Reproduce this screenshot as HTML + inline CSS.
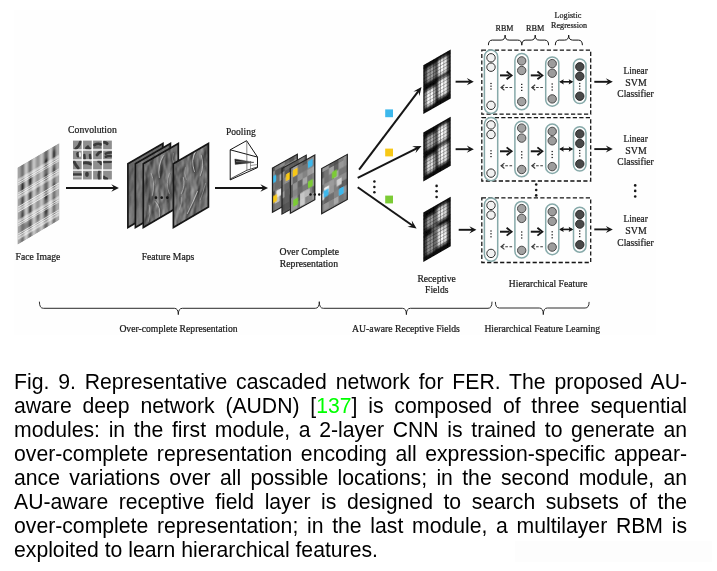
<!DOCTYPE html>
<html><head><meta charset="utf-8">
<style>
html,body{margin:0;padding:0;background:#fff;}
body{width:717px;height:571px;position:relative;overflow:hidden;font-family:"Liberation Sans",sans-serif;}
#fig{position:absolute;left:14px;top:10px;width:642px;height:325px;background:#fefefe;}
#cap{will-change:transform;position:absolute;left:14px;top:369.8px;width:673px;font-size:21.2px;line-height:24px;color:#000;}
#cap div{text-align:justify;text-align-last:justify;white-space:nowrap;height:24px;transform:scaleY(1.02);transform-origin:0 19.4px;}
#cap div.last{text-align:left;text-align-last:left;}
#cap span.ref{color:#00ff00;}
#wm{position:absolute;left:515px;top:541px;width:197px;height:21px;background:#fdfdfd;}
</style></head><body>
<div id="wm"></div>
<div id="fig">
<svg id="svg" width="642" height="324" viewBox="14 10 642 324" style="position:absolute;left:0;top:0;font-family:'Liberation Serif',serif;">
<defs>
<filter id="b3" x="-10%" y="-10%" width="120%" height="120%"><feGaussianBlur stdDeviation="0.35"/></filter>
<filter id="b5" x="-10%" y="-10%" width="120%" height="120%"><feGaussianBlur stdDeviation="0.55"/></filter>
<filter id="b8" x="-20%" y="-20%" width="140%" height="140%"><feGaussianBlur stdDeviation="0.8"/></filter>
<filter id="bu" filterUnits="userSpaceOnUse" x="-5" y="-5" width="20" height="20"><feGaussianBlur stdDeviation="0.85"/></filter>
<filter id="bt" filterUnits="userSpaceOnUse" x="0" y="0" width="720" height="360"><feGaussianBlur stdDeviation="0.28"/></filter>
<filter id="bg" filterUnits="userSpaceOnUse" x="0" y="0" width="720" height="360"><feGaussianBlur stdDeviation="0.3"/></filter>
<filter id="b15" x="-30%" y="-30%" width="160%" height="160%"><feGaussianBlur stdDeviation="1.6"/></filter>
<filter id="emb" x="0" y="0" width="100%" height="100%" color-interpolation-filters="sRGB">
<feTurbulence type="fractalNoise" baseFrequency="0.10 0.045" numOctaves="3" seed="7" result="n"/>
<feDiffuseLighting in="n" surfaceScale="1.25" diffuseConstant="1" lighting-color="#ffffff" result="l"><feDistantLight azimuth="205" elevation="30"/></feDiffuseLighting>
<feColorMatrix in="l" type="matrix" values="0.85 0 0 0 0  0 0.85 0 0 0  0 0 0.85 0 0  0 0 0 1 0" result="lc"/><feGaussianBlur in="lc" stdDeviation="0.45" result="lb"/>
<feComposite in="lb" in2="SourceGraphic" operator="in"/>
</filter>
<filter id="emb2" x="0" y="0" width="100%" height="100%" color-interpolation-filters="sRGB">
<feTurbulence type="fractalNoise" baseFrequency="0.10 0.045" numOctaves="3" seed="23" result="n"/>
<feDiffuseLighting in="n" surfaceScale="1.25" diffuseConstant="1" lighting-color="#ffffff" result="l"><feDistantLight azimuth="205" elevation="30"/></feDiffuseLighting>
<feColorMatrix in="l" type="matrix" values="0.85 0 0 0 0  0 0.85 0 0 0  0 0 0.85 0 0  0 0 0 1 0" result="lc"/><feGaussianBlur in="lc" stdDeviation="0.45" result="lb"/>
<feComposite in="lb" in2="SourceGraphic" operator="in"/>
</filter>
<radialGradient id="blob"><stop offset="0" stop-color="#fff" stop-opacity="1"/><stop offset="0.45" stop-color="#fff" stop-opacity="0.75"/><stop offset="1" stop-color="#fff" stop-opacity="0"/></radialGradient>
<radialGradient id="dblob"><stop offset="0" stop-color="#000" stop-opacity="0.7"/><stop offset="1" stop-color="#000" stop-opacity="0"/></radialGradient>
</defs>
<g filter="url(#bg)">
<g transform="matrix(1,-0.59,0,1,17.6,167.8)">
<clipPath id="cf"><rect x="0" y="0" width="41.7" height="76.6"/></clipPath>
<g clip-path="url(#cf)">
<rect x="0" y="0" width="41.7" height="76.6" fill="#8e8e8e"/>
<g filter="url(#b8)">
<rect x="-0.4" y="-2" width="3.2" height="80.6" fill="#a8a8a8"/>
<rect x="3.3" y="-2" width="3.8" height="80.6" fill="#707070"/>
<rect x="7.0" y="-2" width="3.2" height="80.6" fill="#cecece"/>
<rect x="10.8" y="-2" width="4.0" height="80.6" fill="#727272"/>
<rect x="14.7" y="-2" width="3.4" height="80.6" fill="#c8c8c8"/>
<rect x="18.8" y="-2" width="3.6" height="80.6" fill="#969696"/>
<rect x="22.5" y="-2" width="3.0" height="80.6" fill="#cacaca"/>
<rect x="26.5" y="-2" width="4.2" height="80.6" fill="#686868"/>
<rect x="31.1" y="-2" width="3.4" height="80.6" fill="#d0d0d0"/>
<rect x="34.7" y="-2" width="3.4" height="80.6" fill="#6e6e6e"/>
<rect x="38.2" y="-2" width="3.6" height="80.6" fill="#b0b0b0"/>
<ellipse cx="5.2" cy="22" rx="2.0" ry="4.5" fill="#0a0a0a" opacity="0.7"/>
<ellipse cx="12.8" cy="20" rx="2.0" ry="4.5" fill="#0a0a0a" opacity="0.75"/>
<ellipse cx="28.6" cy="12" rx="2.1" ry="4.5" fill="#0a0a0a" opacity="0.8"/>
<ellipse cx="36.4" cy="8" rx="1.8" ry="5" fill="#0a0a0a" opacity="0.75"/>
<ellipse cx="5.2" cy="36" rx="1.8" ry="4" fill="#0a0a0a" opacity="0.45"/>
<ellipse cx="12.8" cy="35" rx="1.8" ry="4" fill="#0a0a0a" opacity="0.5"/>
<ellipse cx="28.6" cy="27" rx="2" ry="4" fill="#0a0a0a" opacity="0.55"/>
<ellipse cx="36.4" cy="24" rx="1.8" ry="4" fill="#0a0a0a" opacity="0.5"/>
<ellipse cx="5.2" cy="50" rx="1.8" ry="4" fill="#0a0a0a" opacity="0.45"/>
<ellipse cx="12.8" cy="49" rx="1.8" ry="4" fill="#0a0a0a" opacity="0.5"/>
<ellipse cx="28.6" cy="44" rx="2" ry="5" fill="#0a0a0a" opacity="0.6"/>
<ellipse cx="36.4" cy="40" rx="1.8" ry="4" fill="#0a0a0a" opacity="0.5"/>
<ellipse cx="8.6" cy="63" rx="1.8" ry="4" fill="#0a0a0a" opacity="0.35"/>
<ellipse cx="28.6" cy="60" rx="2" ry="4" fill="#0a0a0a" opacity="0.45"/>
<ellipse cx="20.6" cy="32" rx="1.6" ry="5" fill="#0a0a0a" opacity="0.3"/>
<ellipse cx="20.6" cy="60" rx="1.6" ry="5" fill="#0a0a0a" opacity="0.3"/>
<ellipse cx="36.4" cy="55" rx="1.8" ry="4" fill="#0a0a0a" opacity="0.4"/>
<ellipse cx="12.8" cy="64" rx="1.8" ry="4" fill="#0a0a0a" opacity="0.4"/>
</g>
<g filter="url(#b3)">
<rect x="0" y="11.69" width="41.7" height="0.8" fill="#fff" opacity="1"/>
<rect x="0" y="13.39" width="41.7" height="0.8" fill="#fff" opacity="1"/>
<rect x="0" y="15.09" width="41.7" height="0.8" fill="#fff" opacity="1"/>
<rect x="0" y="16.79" width="41.7" height="0.8" fill="#fff" opacity="1"/>
<rect x="0" y="25.39" width="41.7" height="0.8" fill="#fff" opacity="1"/>
<rect x="0" y="27.09" width="41.7" height="0.8" fill="#fff" opacity="1"/>
<rect x="0" y="28.79" width="41.7" height="0.8" fill="#fff" opacity="1"/>
<rect x="0" y="30.49" width="41.7" height="0.8" fill="#fff" opacity="1"/>
<rect x="0" y="39.09" width="41.7" height="0.8" fill="#fff" opacity="1"/>
<rect x="0" y="40.79" width="41.7" height="0.8" fill="#fff" opacity="1"/>
<rect x="0" y="42.49" width="41.7" height="0.8" fill="#fff" opacity="1"/>
<rect x="0" y="44.19" width="41.7" height="0.8" fill="#fff" opacity="1"/>
<rect x="0" y="52.69" width="41.7" height="0.8" fill="#fff" opacity="1"/>
<rect x="0" y="54.39" width="41.7" height="0.8" fill="#fff" opacity="1"/>
<rect x="0" y="56.09" width="41.7" height="0.8" fill="#fff" opacity="1"/>
<rect x="0" y="57.79" width="41.7" height="0.8" fill="#fff" opacity="1"/>
<rect x="0" y="66.29" width="41.7" height="0.8" fill="#fff" opacity="1"/>
<rect x="0" y="67.99" width="41.7" height="0.8" fill="#fff" opacity="1"/>
<rect x="0" y="69.69" width="41.7" height="0.8" fill="#fff" opacity="1"/>
<rect x="0" y="71.39" width="41.7" height="0.8" fill="#fff" opacity="1"/>
</g>
</g></g>
<g filter="url(#b3)">
<rect x="73.00" y="140.60" width="8.7" height="8.7" fill="#8e8e8e"/>
<rect x="83.05" y="140.60" width="8.7" height="8.7" fill="#8e8e8e"/>
<rect x="93.10" y="140.60" width="8.7" height="8.7" fill="#8e8e8e"/>
<rect x="103.15" y="140.60" width="8.7" height="8.7" fill="#8e8e8e"/>
<rect x="73.00" y="150.65" width="8.7" height="8.7" fill="#8e8e8e"/>
<rect x="83.05" y="150.65" width="8.7" height="8.7" fill="#8e8e8e"/>
<rect x="93.10" y="150.65" width="8.7" height="8.7" fill="#8e8e8e"/>
<rect x="103.15" y="150.65" width="8.7" height="8.7" fill="#8e8e8e"/>
<rect x="73.00" y="160.70" width="8.7" height="8.7" fill="#8e8e8e"/>
<rect x="83.05" y="160.70" width="8.7" height="8.7" fill="#8e8e8e"/>
<rect x="93.10" y="160.70" width="8.7" height="8.7" fill="#8e8e8e"/>
<rect x="103.15" y="160.70" width="8.7" height="8.7" fill="#8e8e8e"/>
<rect x="73.00" y="170.75" width="8.7" height="8.7" fill="#8e8e8e"/>
<rect x="83.05" y="170.75" width="8.7" height="8.7" fill="#8e8e8e"/>
<rect x="93.10" y="170.75" width="8.7" height="8.7" fill="#8e8e8e"/>
<rect x="103.15" y="170.75" width="8.7" height="8.7" fill="#8e8e8e"/>
<svg x="73.00" y="140.60" width="8.7" height="8.7" viewBox="0 0 10 10" preserveAspectRatio="none"><path d="M3,9.5 Q7,7 8.5,1.5" stroke="#262626" stroke-width="3.1" fill="none" opacity="0.8" stroke-linecap="round" filter="url(#bu)"/></svg>
<svg x="83.05" y="140.60" width="8.7" height="8.7" viewBox="0 0 10 10" preserveAspectRatio="none"><path d="M4,8.5 L7.5,9.2 M5.5,7 L6.5,9" stroke="#262626" stroke-width="3.3" fill="none" opacity="0.8" stroke-linecap="round" filter="url(#bu)"/></svg>
<svg x="93.10" y="140.60" width="8.7" height="8.7" viewBox="0 0 10 10" preserveAspectRatio="none"><path d="M1.5,5 Q5,3 9,4.2" stroke="#262626" stroke-width="3.3" fill="none" opacity="0.8" stroke-linecap="round" filter="url(#bu)"/></svg>
<svg x="93.10" y="140.60" width="8.7" height="8.7" viewBox="0 0 10 10" preserveAspectRatio="none"><path d="M1.5,7.5 L8.5,7.5" stroke="#555" stroke-width="2.1" fill="none" opacity="0.6" stroke-linecap="round" filter="url(#bu)"/></svg>
<svg x="103.15" y="140.60" width="8.7" height="8.7" viewBox="0 0 10 10" preserveAspectRatio="none"><path d="M1,2 Q3,2 4.5,3.5" stroke="#262626" stroke-width="3.5" fill="none" opacity="0.8" stroke-linecap="round" filter="url(#bu)"/></svg>
<svg x="73.00" y="150.65" width="8.7" height="8.7" viewBox="0 0 10 10" preserveAspectRatio="none"><path d="M5.5,3.5 L6,6" stroke="#262626" stroke-width="3.9" fill="none" opacity="0.8" stroke-linecap="round" filter="url(#bu)"/></svg>
<svg x="73.00" y="150.65" width="8.7" height="8.7" viewBox="0 0 10 10" preserveAspectRatio="none"><path d="M7.8,3 L8,6" stroke="#fff" stroke-width="2.4" fill="none" opacity="0.85" stroke-linecap="round" filter="url(#bu)"/></svg>
<svg x="83.05" y="150.65" width="8.7" height="8.7" viewBox="0 0 10 10" preserveAspectRatio="none"><path d="M1.5,5 L1.8,9.5 M8,5 L8.6,9.5" stroke="#262626" stroke-width="2.9" fill="none" opacity="0.8" stroke-linecap="round" filter="url(#bu)"/></svg>
<svg x="93.10" y="150.65" width="8.7" height="8.7" viewBox="0 0 10 10" preserveAspectRatio="none"><path d="M4.5,5 Q6.5,1.5 9.5,0.8" stroke="#262626" stroke-width="3.3" fill="none" opacity="0.8" stroke-linecap="round" filter="url(#bu)"/></svg>
<svg x="103.15" y="150.65" width="8.7" height="8.7" viewBox="0 0 10 10" preserveAspectRatio="none"><path d="M3,3.5 Q6,2 9.5,2.2 M3,7 Q6,5.8 9.5,6.5" stroke="#262626" stroke-width="2.9" fill="none" opacity="0.8" stroke-linecap="round" filter="url(#bu)"/></svg>
<svg x="73.00" y="160.70" width="8.7" height="8.7" viewBox="0 0 10 10" preserveAspectRatio="none"><path d="M1.2,1 Q3,5 6,8.5" stroke="#262626" stroke-width="3.3" fill="none" opacity="0.8" stroke-linecap="round" filter="url(#bu)"/></svg>
<svg x="83.05" y="160.70" width="8.7" height="8.7" viewBox="0 0 10 10" preserveAspectRatio="none"><path d="M1,2.5 Q5,1.8 9,3.8" stroke="#262626" stroke-width="3.5" fill="none" opacity="0.8" stroke-linecap="round" filter="url(#bu)"/></svg>
<svg x="93.10" y="160.70" width="8.7" height="8.7" viewBox="0 0 10 10" preserveAspectRatio="none"><path d="M6.5,0.8 Q8.5,1.5 9.3,3.5" stroke="#262626" stroke-width="3.5" fill="none" opacity="0.8" stroke-linecap="round" filter="url(#bu)"/></svg>
<svg x="103.15" y="160.70" width="8.7" height="8.7" viewBox="0 0 10 10" preserveAspectRatio="none"><path d="M1,1.2 L9,1" stroke="#262626" stroke-width="3.3" fill="none" opacity="0.8" stroke-linecap="round" filter="url(#bu)"/></svg>
<svg x="73.00" y="170.75" width="8.7" height="8.7" viewBox="0 0 10 10" preserveAspectRatio="none"><path d="M0.5,4.2 L9.5,4.2" stroke="#262626" stroke-width="2.9" fill="none" opacity="0.8" stroke-linecap="round" filter="url(#bu)"/></svg>
<svg x="73.00" y="170.75" width="8.7" height="8.7" viewBox="0 0 10 10" preserveAspectRatio="none"><path d="M0.5,6.8 L9.5,6.8" stroke="#ddd" stroke-width="2.0" fill="none" opacity="0.6" stroke-linecap="round" filter="url(#bu)"/></svg>
<svg x="83.05" y="170.75" width="8.7" height="8.7" viewBox="0 0 10 10" preserveAspectRatio="none"><path d="M4.5,3.2 L4.5,5" stroke="#262626" stroke-width="4.1" fill="none" opacity="0.8" stroke-linecap="round" filter="url(#bu)"/></svg>
<svg x="93.10" y="170.75" width="8.7" height="8.7" viewBox="0 0 10 10" preserveAspectRatio="none"><path d="M7.2,0.5 Q6,5 7,9.5" stroke="#262626" stroke-width="3.1" fill="none" opacity="0.8" stroke-linecap="round" filter="url(#bu)"/></svg>
<svg x="103.15" y="170.75" width="8.7" height="8.7" viewBox="0 0 10 10" preserveAspectRatio="none"><path d="M0.8,7.5 Q2,9 4,9.4" stroke="#262626" stroke-width="3.7" fill="none" opacity="0.8" stroke-linecap="round" filter="url(#bu)"/></svg>
</g>
<path d="M66.0,188.0 L114.7,188.0" stroke="#141414" stroke-width="2.0" fill="none"/>
<path d="M118.9,188.0 L111.3,184.3 L114.2,188.0 L111.3,191.7 Z" fill="#141414"/>
<polygon points="127.9,163.7 162.9,143.5 162.9,207.0 127.9,227.5" fill="#6d6d6d"/>
<polygon points="127.9,163.7 162.9,143.5 162.9,207.0 127.9,227.5" fill="#808080" filter="url(#emb2)" opacity="0.45"/>
<polygon points="127.9,163.7 162.9,143.5 162.9,207.0 127.9,227.5" fill="none" stroke="#141414" stroke-width="1.7" stroke-linejoin="miter"/>
<polygon points="135.4,163.7 170.4,143.5 170.4,207.0 135.4,227.5" fill="#707070"/>
<polygon points="135.4,163.7 170.4,143.5 170.4,207.0 135.4,227.5" fill="#808080" filter="url(#emb)" opacity="0.45"/>
<polygon points="135.4,163.7 170.4,143.5 170.4,207.0 135.4,227.5" fill="none" stroke="#141414" stroke-width="1.7" stroke-linejoin="miter"/>
<polygon points="143.3,163.7 178.3,143.5 178.3,207.0 143.3,227.5" fill="#7f7f7f"/>
<polygon points="143.3,163.7 178.3,143.5 178.3,207.0 143.3,227.5" fill="#808080" filter="url(#emb)" opacity="1.0"/>
<clipPath id="fm143"><polygon points="143.3,163.7 178.3,143.5 178.3,207.0 143.3,227.5"/></clipPath>
<g clip-path="url(#fm143)"><g filter="url(#b5)" fill="none" stroke-linecap="round" transform="translate(143.3,143.5)">
<path d="M20,12 Q14,22 16,34" stroke="#d8d8d8" stroke-width="0.9" opacity="0.7"/>
<path d="M21.2,12.5 Q15.2,22.5 17.2,34.5" stroke="#333" stroke-width="0.9" opacity="0.5"/>
<path d="M8,30 Q12,40 9,52" stroke="#d0d0d0" stroke-width="0.8" opacity="0.6"/>
<path d="M9.2,30.5 Q13.2,40.5 10.2,52.5" stroke="#3a3a3a" stroke-width="0.8" opacity="0.45"/>
<path d="M12,58 Q18,64 16,74" stroke="#d8d8d8" stroke-width="0.9" opacity="0.65"/>
<path d="M13.2,58 Q19.2,64 17.2,74" stroke="#333" stroke-width="0.8" opacity="0.45"/>
<path d="M26,30 Q22,40 26,50" stroke="#cfcfcf" stroke-width="0.8" opacity="0.55"/>
<path d="M27,30 Q23,40 27,50" stroke="#3a3a3a" stroke-width="0.8" opacity="0.4"/>
<path d="M6,62 Q8,70 5,78" stroke="#d0d0d0" stroke-width="0.8" opacity="0.5"/>
<path d="M30,10 Q28,16 31,22" stroke="#ccc" stroke-width="0.8" opacity="0.5"/>
</g></g>
<polygon points="143.3,163.7 178.3,143.5 178.3,207.0 143.3,227.5" fill="none" stroke="#141414" stroke-width="1.7" stroke-linejoin="miter"/>
<polygon points="173.4,163.7 208.4,143.5 208.4,207.0 173.4,227.5" fill="#7f7f7f"/>
<polygon points="173.4,163.7 208.4,143.5 208.4,207.0 173.4,227.5" fill="#808080" filter="url(#emb2)" opacity="1.0"/>
<clipPath id="fm173"><polygon points="173.4,163.7 208.4,143.5 208.4,207.0 173.4,227.5"/></clipPath>
<g clip-path="url(#fm173)"><g filter="url(#b5)" fill="none" stroke-linecap="round" transform="translate(173.4,143.5)">
<path d="M22,8 Q17,16 21,28" stroke="#dcdcdc" stroke-width="1.0" opacity="0.75"/>
<path d="M23.2,8.5 Q18.2,16.5 22.2,28.5" stroke="#2f2f2f" stroke-width="0.9" opacity="0.5"/>
<path d="M28,12 Q31,22 27,32" stroke="#d8d8d8" stroke-width="0.9" opacity="0.65"/>
<path d="M29.2,12 Q32.2,22 28.2,32" stroke="#333" stroke-width="0.8" opacity="0.45"/>
<path d="M8,50 Q12,42 10,34" stroke="#d4d4d4" stroke-width="0.9" opacity="0.6"/>
<path d="M9.2,50.5 Q13.2,42.5 11.2,34.5" stroke="#333" stroke-width="0.8" opacity="0.45"/>
<path d="M14,70 Q20,58 24,48" stroke="#dadada" stroke-width="1.0" opacity="0.7"/>
<path d="M15.2,70.5 Q21.2,58.5 25.2,48.5" stroke="#2f2f2f" stroke-width="0.9" opacity="0.5"/>
<path d="M27,56 Q30,48 32,40" stroke="#d0d0d0" stroke-width="0.8" opacity="0.55"/>
<path d="M6,66 Q9,60 8,54" stroke="#ccc" stroke-width="0.8" opacity="0.5"/>
<path d="M12,24 Q10,30 13,36" stroke="#ccc" stroke-width="0.8" opacity="0.45"/>
</g></g>
<polygon points="173.4,163.7 208.4,143.5 208.4,207.0 173.4,227.5" fill="none" stroke="#141414" stroke-width="1.7" stroke-linejoin="miter"/>
<circle cx="155.9" cy="197.7" r="1.35" fill="#141414"/>
<circle cx="161.7" cy="197.7" r="1.35" fill="#141414"/>
<circle cx="167.3" cy="197.7" r="1.35" fill="#141414"/>
<g fill="none" stroke="#141414" stroke-width="1" stroke-linejoin="round">
<path d="M230.2,149.8 L246.6,140.7 L257.5,157.1 L257.5,167.6 L230.2,179.9 Z"/>
<path d="M230.2,149.8 L257.5,157.1"/>
<path d="M230.2,179.0 L247.0,170.2 L257.5,167.0" stroke-width="0.8"/>
<path d="M246.8,141 L246.9,170.3" stroke="#555" stroke-width="0.7"/>
<path d="M250.5,161 L250.5,169 M250.5,165.5 L257.5,164.5" stroke="#555" stroke-width="0.6"/>
</g>
<path d="M234.8,159.0 L254.0,162.4 L235.2,164.4 Z" fill="#262626" stroke="#262626" stroke-width="0.4"/>
<path d="M236,161.6 L252,162.3" stroke="#aaa" stroke-width="0.5"/>
<path d="M215.0,188.0 L263.8,188.0" stroke="#141414" stroke-width="2.0" fill="none"/>
<path d="M268.0,188.0 L260.4,184.3 L263.3,188.0 L260.4,191.7 Z" fill="#141414"/>
<g transform="matrix(1,-0.552,0,1,272.5,168.0)">
<clipPath id="oc11"><rect x="0" y="0" width="24.8" height="44.2"/></clipPath>
<g clip-path="url(#oc11)">
<rect x="0" y="0" width="24.8" height="44.2" fill="rgb(116,116,116)"/>
<g filter="url(#b3)">
<rect x="-2.40" y="-2.60" width="4.949999999999999" height="6.699999999999999" fill="rgb(87,87,87)"/>
<rect x="2.45" y="-2.60" width="4.949999999999999" height="6.699999999999999" fill="rgb(124,124,124)"/>
<rect x="7.30" y="-2.60" width="4.949999999999999" height="6.699999999999999" fill="rgb(138,138,138)"/>
<rect x="12.15" y="-2.60" width="4.949999999999999" height="6.699999999999999" fill="rgb(104,104,104)"/>
<rect x="17.00" y="-2.60" width="4.949999999999999" height="6.699999999999999" fill="rgb(85,85,85)"/>
<rect x="21.85" y="-2.60" width="4.949999999999999" height="6.699999999999999" fill="rgb(114,114,114)"/>
<rect x="26.70" y="-2.60" width="4.949999999999999" height="6.699999999999999" fill="rgb(126,126,126)"/>
<rect x="-2.40" y="4.00" width="4.949999999999999" height="6.699999999999999" fill="rgb(141,141,141)"/>
<rect x="2.45" y="4.00" width="4.949999999999999" height="6.699999999999999" fill="rgb(88,88,88)"/>
<rect x="7.30" y="4.00" width="4.949999999999999" height="6.699999999999999" fill="rgb(86,86,86)"/>
<rect x="12.15" y="4.00" width="4.949999999999999" height="6.699999999999999" fill="rgb(132,132,132)"/>
<rect x="17.00" y="4.00" width="4.949999999999999" height="6.699999999999999" fill="rgb(126,126,126)"/>
<rect x="21.85" y="4.00" width="4.949999999999999" height="6.699999999999999" fill="rgb(151,151,151)"/>
<rect x="26.70" y="4.00" width="4.949999999999999" height="6.699999999999999" fill="rgb(138,138,138)"/>
<rect x="-2.40" y="10.60" width="4.949999999999999" height="6.699999999999999" fill="rgb(113,113,113)"/>
<rect x="2.45" y="10.60" width="4.949999999999999" height="6.699999999999999" fill="rgb(109,109,109)"/>
<rect x="7.30" y="10.60" width="4.949999999999999" height="6.699999999999999" fill="rgb(175,175,175)"/>
<rect x="12.15" y="10.60" width="4.949999999999999" height="6.699999999999999" fill="rgb(109,109,109)"/>
<rect x="17.00" y="10.60" width="4.949999999999999" height="6.699999999999999" fill="rgb(97,97,97)"/>
<rect x="21.85" y="10.60" width="4.949999999999999" height="6.699999999999999" fill="rgb(89,89,89)"/>
<rect x="26.70" y="10.60" width="4.949999999999999" height="6.699999999999999" fill="rgb(118,118,118)"/>
<rect x="-2.40" y="17.20" width="4.949999999999999" height="6.699999999999999" fill="rgb(119,119,119)"/>
<rect x="2.45" y="17.20" width="4.949999999999999" height="6.699999999999999" fill="rgb(108,108,108)"/>
<rect x="7.30" y="17.20" width="4.949999999999999" height="6.699999999999999" fill="rgb(114,114,114)"/>
<rect x="12.15" y="17.20" width="4.949999999999999" height="6.699999999999999" fill="rgb(122,122,122)"/>
<rect x="17.00" y="17.20" width="4.949999999999999" height="6.699999999999999" fill="rgb(131,131,131)"/>
<rect x="21.85" y="17.20" width="4.949999999999999" height="6.699999999999999" fill="rgb(141,141,141)"/>
<rect x="26.70" y="17.20" width="4.949999999999999" height="6.699999999999999" fill="rgb(120,120,120)"/>
<rect x="-2.40" y="23.80" width="4.949999999999999" height="6.699999999999999" fill="rgb(74,74,74)"/>
<rect x="2.45" y="23.80" width="4.949999999999999" height="6.699999999999999" fill="rgb(132,132,132)"/>
<rect x="7.30" y="23.80" width="4.949999999999999" height="6.699999999999999" fill="rgb(83,83,83)"/>
<rect x="12.15" y="23.80" width="4.949999999999999" height="6.699999999999999" fill="rgb(112,112,112)"/>
<rect x="17.00" y="23.80" width="4.949999999999999" height="6.699999999999999" fill="rgb(82,82,82)"/>
<rect x="21.85" y="23.80" width="4.949999999999999" height="6.699999999999999" fill="rgb(116,116,116)"/>
<rect x="26.70" y="23.80" width="4.949999999999999" height="6.699999999999999" fill="rgb(98,98,98)"/>
<rect x="-2.40" y="30.40" width="4.949999999999999" height="6.699999999999999" fill="rgb(120,120,120)"/>
<rect x="2.45" y="30.40" width="4.949999999999999" height="6.699999999999999" fill="rgb(191,191,191)"/>
<rect x="7.30" y="30.40" width="4.949999999999999" height="6.699999999999999" fill="rgb(114,114,114)"/>
<rect x="12.15" y="30.40" width="4.949999999999999" height="6.699999999999999" fill="rgb(135,135,135)"/>
<rect x="17.00" y="30.40" width="4.949999999999999" height="6.699999999999999" fill="rgb(85,85,85)"/>
<rect x="21.85" y="30.40" width="4.949999999999999" height="6.699999999999999" fill="rgb(109,109,109)"/>
<rect x="26.70" y="30.40" width="4.949999999999999" height="6.699999999999999" fill="rgb(131,131,131)"/>
<rect x="-2.40" y="37.00" width="4.949999999999999" height="6.699999999999999" fill="rgb(113,113,113)"/>
<rect x="2.45" y="37.00" width="4.949999999999999" height="6.699999999999999" fill="rgb(124,124,124)"/>
<rect x="7.30" y="37.00" width="4.949999999999999" height="6.699999999999999" fill="rgb(118,118,118)"/>
<rect x="12.15" y="37.00" width="4.949999999999999" height="6.699999999999999" fill="rgb(92,92,92)"/>
<rect x="17.00" y="37.00" width="4.949999999999999" height="6.699999999999999" fill="rgb(128,128,128)"/>
<rect x="21.85" y="37.00" width="4.949999999999999" height="6.699999999999999" fill="rgb(97,97,97)"/>
<rect x="26.70" y="37.00" width="4.949999999999999" height="6.699999999999999" fill="rgb(159,159,159)"/>
<rect x="-2.40" y="43.60" width="4.949999999999999" height="6.699999999999999" fill="rgb(104,104,104)"/>
<rect x="2.45" y="43.60" width="4.949999999999999" height="6.699999999999999" fill="rgb(131,131,131)"/>
<rect x="7.30" y="43.60" width="4.949999999999999" height="6.699999999999999" fill="rgb(116,116,116)"/>
<rect x="12.15" y="43.60" width="4.949999999999999" height="6.699999999999999" fill="rgb(137,137,137)"/>
<rect x="17.00" y="43.60" width="4.949999999999999" height="6.699999999999999" fill="rgb(102,102,102)"/>
<rect x="21.85" y="43.60" width="4.949999999999999" height="6.699999999999999" fill="rgb(138,138,138)"/>
<rect x="26.70" y="43.60" width="4.949999999999999" height="6.699999999999999" fill="rgb(113,113,113)"/>
<rect x="3.90" y="25.12" width="4.85" height="6.6" fill="#e8e8e8"/>
<rect x="-1.20" y="8.60" width="4.9" height="7.0" rx="0.8" fill="#3db8ec"/>
<rect x="-0.30" y="28.61" width="4.9" height="7.0" rx="0.8" fill="#f7c815"/>
</g>
</g>
<rect x="0" y="0" width="24.8" height="44.2" fill="none" stroke="#222" stroke-width="1.25"/>
</g>
<g transform="matrix(1,-0.552,0,1,282.0,168.5)">
<clipPath id="oc12"><rect x="0" y="0" width="24.2" height="45.6"/></clipPath>
<g clip-path="url(#oc12)">
<rect x="0" y="0" width="24.2" height="45.6" fill="rgb(100,100,100)"/>
<g filter="url(#b3)">
<rect x="-2.40" y="-2.60" width="4.949999999999999" height="6.699999999999999" fill="rgb(66,66,66)"/>
<rect x="2.45" y="-2.60" width="4.949999999999999" height="6.699999999999999" fill="rgb(105,105,105)"/>
<rect x="7.30" y="-2.60" width="4.949999999999999" height="6.699999999999999" fill="rgb(93,93,93)"/>
<rect x="12.15" y="-2.60" width="4.949999999999999" height="6.699999999999999" fill="rgb(88,88,88)"/>
<rect x="17.00" y="-2.60" width="4.949999999999999" height="6.699999999999999" fill="rgb(122,122,122)"/>
<rect x="21.85" y="-2.60" width="4.949999999999999" height="6.699999999999999" fill="rgb(101,101,101)"/>
<rect x="26.70" y="-2.60" width="4.949999999999999" height="6.699999999999999" fill="rgb(93,93,93)"/>
<rect x="-2.40" y="4.00" width="4.949999999999999" height="6.699999999999999" fill="rgb(141,141,141)"/>
<rect x="2.45" y="4.00" width="4.949999999999999" height="6.699999999999999" fill="rgb(88,88,88)"/>
<rect x="7.30" y="4.00" width="4.949999999999999" height="6.699999999999999" fill="rgb(70,70,70)"/>
<rect x="12.15" y="4.00" width="4.949999999999999" height="6.699999999999999" fill="rgb(68,68,68)"/>
<rect x="17.00" y="4.00" width="4.949999999999999" height="6.699999999999999" fill="rgb(87,87,87)"/>
<rect x="21.85" y="4.00" width="4.949999999999999" height="6.699999999999999" fill="rgb(115,115,115)"/>
<rect x="26.70" y="4.00" width="4.949999999999999" height="6.699999999999999" fill="rgb(119,119,119)"/>
<rect x="-2.40" y="10.60" width="4.949999999999999" height="6.699999999999999" fill="rgb(126,126,126)"/>
<rect x="2.45" y="10.60" width="4.949999999999999" height="6.699999999999999" fill="rgb(142,142,142)"/>
<rect x="7.30" y="10.60" width="4.949999999999999" height="6.699999999999999" fill="rgb(139,139,139)"/>
<rect x="12.15" y="10.60" width="4.949999999999999" height="6.699999999999999" fill="rgb(115,115,115)"/>
<rect x="17.00" y="10.60" width="4.949999999999999" height="6.699999999999999" fill="rgb(131,131,131)"/>
<rect x="21.85" y="10.60" width="4.949999999999999" height="6.699999999999999" fill="rgb(115,115,115)"/>
<rect x="26.70" y="10.60" width="4.949999999999999" height="6.699999999999999" fill="rgb(87,87,87)"/>
<rect x="-2.40" y="17.20" width="4.949999999999999" height="6.699999999999999" fill="rgb(120,120,120)"/>
<rect x="2.45" y="17.20" width="4.949999999999999" height="6.699999999999999" fill="rgb(102,102,102)"/>
<rect x="7.30" y="17.20" width="4.949999999999999" height="6.699999999999999" fill="rgb(96,96,96)"/>
<rect x="12.15" y="17.20" width="4.949999999999999" height="6.699999999999999" fill="rgb(147,147,147)"/>
<rect x="17.00" y="17.20" width="4.949999999999999" height="6.699999999999999" fill="rgb(119,119,119)"/>
<rect x="21.85" y="17.20" width="4.949999999999999" height="6.699999999999999" fill="rgb(89,89,89)"/>
<rect x="26.70" y="17.20" width="4.949999999999999" height="6.699999999999999" fill="rgb(99,99,99)"/>
<rect x="-2.40" y="23.80" width="4.949999999999999" height="6.699999999999999" fill="rgb(155,155,155)"/>
<rect x="2.45" y="23.80" width="4.949999999999999" height="6.699999999999999" fill="rgb(95,95,95)"/>
<rect x="7.30" y="23.80" width="4.949999999999999" height="6.699999999999999" fill="rgb(118,118,118)"/>
<rect x="12.15" y="23.80" width="4.949999999999999" height="6.699999999999999" fill="rgb(115,115,115)"/>
<rect x="17.00" y="23.80" width="4.949999999999999" height="6.699999999999999" fill="rgb(113,113,113)"/>
<rect x="21.85" y="23.80" width="4.949999999999999" height="6.699999999999999" fill="rgb(114,114,114)"/>
<rect x="26.70" y="23.80" width="4.949999999999999" height="6.699999999999999" fill="rgb(90,90,90)"/>
<rect x="-2.40" y="30.40" width="4.949999999999999" height="6.699999999999999" fill="rgb(90,90,90)"/>
<rect x="2.45" y="30.40" width="4.949999999999999" height="6.699999999999999" fill="rgb(97,97,97)"/>
<rect x="7.30" y="30.40" width="4.949999999999999" height="6.699999999999999" fill="rgb(92,92,92)"/>
<rect x="12.15" y="30.40" width="4.949999999999999" height="6.699999999999999" fill="rgb(120,120,120)"/>
<rect x="17.00" y="30.40" width="4.949999999999999" height="6.699999999999999" fill="rgb(137,137,137)"/>
<rect x="21.85" y="30.40" width="4.949999999999999" height="6.699999999999999" fill="rgb(80,80,80)"/>
<rect x="26.70" y="30.40" width="4.949999999999999" height="6.699999999999999" fill="rgb(114,114,114)"/>
<rect x="-2.40" y="37.00" width="4.949999999999999" height="6.699999999999999" fill="rgb(78,78,78)"/>
<rect x="2.45" y="37.00" width="4.949999999999999" height="6.699999999999999" fill="rgb(85,85,85)"/>
<rect x="7.30" y="37.00" width="4.949999999999999" height="6.699999999999999" fill="rgb(95,95,95)"/>
<rect x="12.15" y="37.00" width="4.949999999999999" height="6.699999999999999" fill="rgb(103,103,103)"/>
<rect x="17.00" y="37.00" width="4.949999999999999" height="6.699999999999999" fill="rgb(91,91,91)"/>
<rect x="21.85" y="37.00" width="4.949999999999999" height="6.699999999999999" fill="rgb(50,50,50)"/>
<rect x="26.70" y="37.00" width="4.949999999999999" height="6.699999999999999" fill="rgb(133,133,133)"/>
<rect x="-2.40" y="43.60" width="4.949999999999999" height="6.699999999999999" fill="rgb(94,94,94)"/>
<rect x="2.45" y="43.60" width="4.949999999999999" height="6.699999999999999" fill="rgb(86,86,86)"/>
<rect x="7.30" y="43.60" width="4.949999999999999" height="6.699999999999999" fill="rgb(117,117,117)"/>
<rect x="12.15" y="43.60" width="4.949999999999999" height="6.699999999999999" fill="rgb(87,87,87)"/>
<rect x="17.00" y="43.60" width="4.949999999999999" height="6.699999999999999" fill="rgb(67,67,67)"/>
<rect x="21.85" y="43.60" width="4.949999999999999" height="6.699999999999999" fill="rgb(112,112,112)"/>
<rect x="26.70" y="43.60" width="4.949999999999999" height="6.699999999999999" fill="rgb(111,111,111)"/>
<rect x="3.90" y="8.05" width="4.9" height="7.0" rx="0.8" fill="#f7c815"/>
</g>
</g>
<rect x="0" y="0" width="24.2" height="45.6" fill="none" stroke="#222" stroke-width="1.25"/>
</g>
<g transform="matrix(1,-0.552,0,1,290.4,168.5)">
<clipPath id="oc13"><rect x="0" y="0" width="24.4" height="44.8"/></clipPath>
<g clip-path="url(#oc13)">
<rect x="0" y="0" width="24.4" height="44.8" fill="rgb(130,130,130)"/>
<g filter="url(#b3)">
<rect x="-2.40" y="-2.60" width="4.949999999999999" height="6.699999999999999" fill="rgb(128,128,128)"/>
<rect x="2.45" y="-2.60" width="4.949999999999999" height="6.699999999999999" fill="rgb(164,164,164)"/>
<rect x="7.30" y="-2.60" width="4.949999999999999" height="6.699999999999999" fill="rgb(111,111,111)"/>
<rect x="12.15" y="-2.60" width="4.949999999999999" height="6.699999999999999" fill="rgb(89,89,89)"/>
<rect x="17.00" y="-2.60" width="4.949999999999999" height="6.699999999999999" fill="rgb(136,136,136)"/>
<rect x="21.85" y="-2.60" width="4.949999999999999" height="6.699999999999999" fill="rgb(145,145,145)"/>
<rect x="26.70" y="-2.60" width="4.949999999999999" height="6.699999999999999" fill="rgb(139,139,139)"/>
<rect x="-2.40" y="4.00" width="4.949999999999999" height="6.699999999999999" fill="rgb(143,143,143)"/>
<rect x="2.45" y="4.00" width="4.949999999999999" height="6.699999999999999" fill="rgb(128,128,128)"/>
<rect x="7.30" y="4.00" width="4.949999999999999" height="6.699999999999999" fill="rgb(117,117,117)"/>
<rect x="12.15" y="4.00" width="4.949999999999999" height="6.699999999999999" fill="rgb(114,114,114)"/>
<rect x="17.00" y="4.00" width="4.949999999999999" height="6.699999999999999" fill="rgb(126,126,126)"/>
<rect x="21.85" y="4.00" width="4.949999999999999" height="6.699999999999999" fill="rgb(123,123,123)"/>
<rect x="26.70" y="4.00" width="4.949999999999999" height="6.699999999999999" fill="rgb(153,153,153)"/>
<rect x="-2.40" y="10.60" width="4.949999999999999" height="6.699999999999999" fill="rgb(146,146,146)"/>
<rect x="2.45" y="10.60" width="4.949999999999999" height="6.699999999999999" fill="rgb(103,103,103)"/>
<rect x="7.30" y="10.60" width="4.949999999999999" height="6.699999999999999" fill="rgb(148,148,148)"/>
<rect x="12.15" y="10.60" width="4.949999999999999" height="6.699999999999999" fill="rgb(131,131,131)"/>
<rect x="17.00" y="10.60" width="4.949999999999999" height="6.699999999999999" fill="rgb(158,158,158)"/>
<rect x="21.85" y="10.60" width="4.949999999999999" height="6.699999999999999" fill="rgb(167,167,167)"/>
<rect x="26.70" y="10.60" width="4.949999999999999" height="6.699999999999999" fill="rgb(145,145,145)"/>
<rect x="-2.40" y="17.20" width="4.949999999999999" height="6.699999999999999" fill="rgb(91,91,91)"/>
<rect x="2.45" y="17.20" width="4.949999999999999" height="6.699999999999999" fill="rgb(147,147,147)"/>
<rect x="7.30" y="17.20" width="4.949999999999999" height="6.699999999999999" fill="rgb(96,96,96)"/>
<rect x="12.15" y="17.20" width="4.949999999999999" height="6.699999999999999" fill="rgb(168,168,168)"/>
<rect x="17.00" y="17.20" width="4.949999999999999" height="6.699999999999999" fill="rgb(117,117,117)"/>
<rect x="21.85" y="17.20" width="4.949999999999999" height="6.699999999999999" fill="rgb(128,128,128)"/>
<rect x="26.70" y="17.20" width="4.949999999999999" height="6.699999999999999" fill="rgb(174,174,174)"/>
<rect x="-2.40" y="23.80" width="4.949999999999999" height="6.699999999999999" fill="rgb(91,91,91)"/>
<rect x="2.45" y="23.80" width="4.949999999999999" height="6.699999999999999" fill="rgb(133,133,133)"/>
<rect x="7.30" y="23.80" width="4.949999999999999" height="6.699999999999999" fill="rgb(107,107,107)"/>
<rect x="12.15" y="23.80" width="4.949999999999999" height="6.699999999999999" fill="rgb(120,120,120)"/>
<rect x="17.00" y="23.80" width="4.949999999999999" height="6.699999999999999" fill="rgb(113,113,113)"/>
<rect x="21.85" y="23.80" width="4.949999999999999" height="6.699999999999999" fill="rgb(148,148,148)"/>
<rect x="26.70" y="23.80" width="4.949999999999999" height="6.699999999999999" fill="rgb(125,125,125)"/>
<rect x="-2.40" y="30.40" width="4.949999999999999" height="6.699999999999999" fill="rgb(140,140,140)"/>
<rect x="2.45" y="30.40" width="4.949999999999999" height="6.699999999999999" fill="rgb(147,147,147)"/>
<rect x="7.30" y="30.40" width="4.949999999999999" height="6.699999999999999" fill="rgb(92,92,92)"/>
<rect x="12.15" y="30.40" width="4.949999999999999" height="6.699999999999999" fill="rgb(165,165,165)"/>
<rect x="17.00" y="30.40" width="4.949999999999999" height="6.699999999999999" fill="rgb(126,126,126)"/>
<rect x="21.85" y="30.40" width="4.949999999999999" height="6.699999999999999" fill="rgb(93,93,93)"/>
<rect x="26.70" y="30.40" width="4.949999999999999" height="6.699999999999999" fill="rgb(117,117,117)"/>
<rect x="-2.40" y="37.00" width="4.949999999999999" height="6.699999999999999" fill="rgb(152,152,152)"/>
<rect x="2.45" y="37.00" width="4.949999999999999" height="6.699999999999999" fill="rgb(155,155,155)"/>
<rect x="7.30" y="37.00" width="4.949999999999999" height="6.699999999999999" fill="rgb(116,116,116)"/>
<rect x="12.15" y="37.00" width="4.949999999999999" height="6.699999999999999" fill="rgb(134,134,134)"/>
<rect x="17.00" y="37.00" width="4.949999999999999" height="6.699999999999999" fill="rgb(138,138,138)"/>
<rect x="21.85" y="37.00" width="4.949999999999999" height="6.699999999999999" fill="rgb(156,156,156)"/>
<rect x="26.70" y="37.00" width="4.949999999999999" height="6.699999999999999" fill="rgb(129,129,129)"/>
<rect x="-2.40" y="43.60" width="4.949999999999999" height="6.699999999999999" fill="rgb(155,155,155)"/>
<rect x="2.45" y="43.60" width="4.949999999999999" height="6.699999999999999" fill="rgb(111,111,111)"/>
<rect x="7.30" y="43.60" width="4.949999999999999" height="6.699999999999999" fill="rgb(115,115,115)"/>
<rect x="12.15" y="43.60" width="4.949999999999999" height="6.699999999999999" fill="rgb(148,148,148)"/>
<rect x="17.00" y="43.60" width="4.949999999999999" height="6.699999999999999" fill="rgb(149,149,149)"/>
<rect x="21.85" y="43.60" width="4.949999999999999" height="6.699999999999999" fill="rgb(131,131,131)"/>
<rect x="26.70" y="43.60" width="4.949999999999999" height="6.699999999999999" fill="rgb(146,146,146)"/>
<rect x="9.72" y="30.40" width="4.85" height="6.6" fill="#c6c6c6"/>
<rect x="14.57" y="30.40" width="4.85" height="6.6" fill="#b8b8b8"/>
<rect x="9.72" y="37.00" width="4.85" height="6.6" fill="#cccccc"/>
<rect x="2.40" y="3.02" width="4.9" height="7.0" rx="0.8" fill="#f7c815"/>
<rect x="17.50" y="2.46" width="4.9" height="7.0" rx="0.8" fill="#3db8ec"/>
<rect x="17.50" y="22.66" width="4.9" height="7.0" rx="0.8" fill="#7ccb35"/>
<rect x="2.80" y="33.05" width="4.9" height="7.0" rx="0.8" fill="#7ccb35"/>
</g>
</g>
<rect x="0" y="0" width="24.4" height="44.8" fill="none" stroke="#222" stroke-width="1.25"/>
</g>
<g transform="matrix(1,-0.552,0,1,321.7,168.5)">
<clipPath id="oc14"><rect x="0" y="0" width="25.6" height="45.2"/></clipPath>
<g clip-path="url(#oc14)">
<rect x="0" y="0" width="25.6" height="45.2" fill="rgb(128,128,128)"/>
<g filter="url(#b3)">
<rect x="-2.40" y="-2.60" width="4.949999999999999" height="6.699999999999999" fill="rgb(156,156,156)"/>
<rect x="2.45" y="-2.60" width="4.949999999999999" height="6.699999999999999" fill="rgb(150,150,150)"/>
<rect x="7.30" y="-2.60" width="4.949999999999999" height="6.699999999999999" fill="rgb(96,96,96)"/>
<rect x="12.15" y="-2.60" width="4.949999999999999" height="6.699999999999999" fill="rgb(83,83,83)"/>
<rect x="17.00" y="-2.60" width="4.949999999999999" height="6.699999999999999" fill="rgb(125,125,125)"/>
<rect x="21.85" y="-2.60" width="4.949999999999999" height="6.699999999999999" fill="rgb(145,145,145)"/>
<rect x="26.70" y="-2.60" width="4.949999999999999" height="6.699999999999999" fill="rgb(124,124,124)"/>
<rect x="-2.40" y="4.00" width="4.949999999999999" height="6.699999999999999" fill="rgb(94,94,94)"/>
<rect x="2.45" y="4.00" width="4.949999999999999" height="6.699999999999999" fill="rgb(116,116,116)"/>
<rect x="7.30" y="4.00" width="4.949999999999999" height="6.699999999999999" fill="rgb(161,161,161)"/>
<rect x="12.15" y="4.00" width="4.949999999999999" height="6.699999999999999" fill="rgb(96,96,96)"/>
<rect x="17.00" y="4.00" width="4.949999999999999" height="6.699999999999999" fill="rgb(152,152,152)"/>
<rect x="21.85" y="4.00" width="4.949999999999999" height="6.699999999999999" fill="rgb(140,140,140)"/>
<rect x="26.70" y="4.00" width="4.949999999999999" height="6.699999999999999" fill="rgb(139,139,139)"/>
<rect x="-2.40" y="10.60" width="4.949999999999999" height="6.699999999999999" fill="rgb(145,145,145)"/>
<rect x="2.45" y="10.60" width="4.949999999999999" height="6.699999999999999" fill="rgb(115,115,115)"/>
<rect x="7.30" y="10.60" width="4.949999999999999" height="6.699999999999999" fill="rgb(125,125,125)"/>
<rect x="12.15" y="10.60" width="4.949999999999999" height="6.699999999999999" fill="rgb(169,169,169)"/>
<rect x="17.00" y="10.60" width="4.949999999999999" height="6.699999999999999" fill="rgb(119,119,119)"/>
<rect x="21.85" y="10.60" width="4.949999999999999" height="6.699999999999999" fill="rgb(118,118,118)"/>
<rect x="26.70" y="10.60" width="4.949999999999999" height="6.699999999999999" fill="rgb(95,95,95)"/>
<rect x="-2.40" y="17.20" width="4.949999999999999" height="6.699999999999999" fill="rgb(117,117,117)"/>
<rect x="2.45" y="17.20" width="4.949999999999999" height="6.699999999999999" fill="rgb(145,145,145)"/>
<rect x="7.30" y="17.20" width="4.949999999999999" height="6.699999999999999" fill="rgb(156,156,156)"/>
<rect x="12.15" y="17.20" width="4.949999999999999" height="6.699999999999999" fill="rgb(142,142,142)"/>
<rect x="17.00" y="17.20" width="4.949999999999999" height="6.699999999999999" fill="rgb(142,142,142)"/>
<rect x="21.85" y="17.20" width="4.949999999999999" height="6.699999999999999" fill="rgb(141,141,141)"/>
<rect x="26.70" y="17.20" width="4.949999999999999" height="6.699999999999999" fill="rgb(135,135,135)"/>
<rect x="-2.40" y="23.80" width="4.949999999999999" height="6.699999999999999" fill="rgb(151,151,151)"/>
<rect x="2.45" y="23.80" width="4.949999999999999" height="6.699999999999999" fill="rgb(124,124,124)"/>
<rect x="7.30" y="23.80" width="4.949999999999999" height="6.699999999999999" fill="rgb(152,152,152)"/>
<rect x="12.15" y="23.80" width="4.949999999999999" height="6.699999999999999" fill="rgb(126,126,126)"/>
<rect x="17.00" y="23.80" width="4.949999999999999" height="6.699999999999999" fill="rgb(91,91,91)"/>
<rect x="21.85" y="23.80" width="4.949999999999999" height="6.699999999999999" fill="rgb(98,98,98)"/>
<rect x="26.70" y="23.80" width="4.949999999999999" height="6.699999999999999" fill="rgb(123,123,123)"/>
<rect x="-2.40" y="30.40" width="4.949999999999999" height="6.699999999999999" fill="rgb(117,117,117)"/>
<rect x="2.45" y="30.40" width="4.949999999999999" height="6.699999999999999" fill="rgb(100,100,100)"/>
<rect x="7.30" y="30.40" width="4.949999999999999" height="6.699999999999999" fill="rgb(110,110,110)"/>
<rect x="12.15" y="30.40" width="4.949999999999999" height="6.699999999999999" fill="rgb(132,132,132)"/>
<rect x="17.00" y="30.40" width="4.949999999999999" height="6.699999999999999" fill="rgb(137,137,137)"/>
<rect x="21.85" y="30.40" width="4.949999999999999" height="6.699999999999999" fill="rgb(147,147,147)"/>
<rect x="26.70" y="30.40" width="4.949999999999999" height="6.699999999999999" fill="rgb(108,108,108)"/>
<rect x="-2.40" y="37.00" width="4.949999999999999" height="6.699999999999999" fill="rgb(136,136,136)"/>
<rect x="2.45" y="37.00" width="4.949999999999999" height="6.699999999999999" fill="rgb(151,151,151)"/>
<rect x="7.30" y="37.00" width="4.949999999999999" height="6.699999999999999" fill="rgb(136,136,136)"/>
<rect x="12.15" y="37.00" width="4.949999999999999" height="6.699999999999999" fill="rgb(168,168,168)"/>
<rect x="17.00" y="37.00" width="4.949999999999999" height="6.699999999999999" fill="rgb(117,117,117)"/>
<rect x="21.85" y="37.00" width="4.949999999999999" height="6.699999999999999" fill="rgb(127,127,127)"/>
<rect x="26.70" y="37.00" width="4.949999999999999" height="6.699999999999999" fill="rgb(132,132,132)"/>
<rect x="-2.40" y="43.60" width="4.949999999999999" height="6.699999999999999" fill="rgb(118,118,118)"/>
<rect x="2.45" y="43.60" width="4.949999999999999" height="6.699999999999999" fill="rgb(126,126,126)"/>
<rect x="7.30" y="43.60" width="4.949999999999999" height="6.699999999999999" fill="rgb(133,133,133)"/>
<rect x="12.15" y="43.60" width="4.949999999999999" height="6.699999999999999" fill="rgb(127,127,127)"/>
<rect x="17.00" y="43.60" width="4.949999999999999" height="6.699999999999999" fill="rgb(116,116,116)"/>
<rect x="21.85" y="43.60" width="4.949999999999999" height="6.699999999999999" fill="rgb(117,117,117)"/>
<rect x="26.70" y="43.60" width="4.949999999999999" height="6.699999999999999" fill="rgb(126,126,126)"/>
<rect x="2.45" y="20.83" width="4.85" height="6.6" fill="#eeeeee"/>
<rect x="-2.40" y="25.78" width="4.85" height="6.6" fill="#e6e6e6"/>
<rect x="15.06" y="19.84" width="4.85" height="6.6" fill="#d0d0d0"/>
<rect x="10.30" y="9.19" width="4.9" height="7.0" rx="0.8" fill="#7ccb35"/>
<rect x="1.90" y="23.45" width="4.9" height="7.0" rx="0.8" fill="#3db8ec"/>
<rect x="17.20" y="29.89" width="4.9" height="7.0" rx="0.8" fill="#3db8ec"/>
</g>
</g>
<rect x="0" y="0" width="25.6" height="45.2" fill="none" stroke="#222" stroke-width="1.25"/>
</g>
<circle cx="310.5" cy="194.5" r="1.2" fill="#141414"/>
<circle cx="314.8" cy="194.5" r="1.2" fill="#141414"/>
<circle cx="319.2" cy="194.5" r="1.2" fill="#141414"/>
<g transform="translate(359.1,169.6) rotate(-52.93)">
<path d="M0,0 L99.3,0" stroke="#141414" stroke-width="2.0" fill="none"/>
<path d="M103.5,0 L95.0,-3.8 L98.4,0 L95.0,3.8 Z" fill="#141414"/>
</g>
<g transform="translate(357.7,177.8) rotate(-26.57)">
<path d="M0,0 L67.1,0" stroke="#141414" stroke-width="2.0" fill="none"/>
<path d="M71.3,0 L62.8,-3.8 L66.2,0 L62.8,3.8 Z" fill="#141414"/>
</g>
<g transform="translate(357.7,187.3) rotate(34.91)">
<path d="M0,0 L67.6,0" stroke="#141414" stroke-width="2.0" fill="none"/>
<path d="M71.8,0 L63.3,-3.8 L66.7,0 L63.3,3.8 Z" fill="#141414"/>
</g>
<circle cx="374.4" cy="181.4" r="1.25" fill="#141414"/>
<circle cx="374.4" cy="186.9" r="1.25" fill="#141414"/>
<circle cx="374.4" cy="192.2" r="1.25" fill="#141414"/>
<rect x="385.2" y="109.4" width="7.8" height="7.8" fill="#3db8ec"/>
<rect x="385.2" y="148.6" width="7.8" height="7.8" fill="#f7c815"/>
<rect x="385.2" y="195.6" width="7.8" height="7.8" fill="#7ccb35"/>
<g transform="matrix(1,-0.573,0,1,423.3,65.2)">
<clipPath id="rf1"><rect x="0" y="0" width="27.4" height="48.9"/></clipPath>
<rect x="0" y="0" width="27.4" height="48.9" fill="#0a0a0a"/>
<g clip-path="url(#rf1)">
<g filter="url(#b15)">
<rect x="2.5" y="5" width="9.5" height="15" rx="2" fill="#fff" opacity="0.60"/>
<rect x="14" y="3.5" width="10.5" height="17" rx="2" fill="#fff" opacity="0.90"/>
<rect x="16" y="7" width="6" height="9" rx="2" fill="#fff" opacity="0.96"/>
<rect x="2" y="27" width="10" height="17.5" rx="2" fill="#fff" opacity="0.90"/>
<rect x="3.5" y="31" width="6" height="10" rx="2" fill="#fff" opacity="1.00"/>
<rect x="14.5" y="23.5" width="10.5" height="19" rx="2" fill="#fff" opacity="0.90"/>
<rect x="16.5" y="27" width="6" height="11" rx="2" fill="#fff" opacity="0.90"/>
</g>
<rect x="3.02" y="0" width="0.8" height="48.9" fill="#000" opacity="0.42"/>
<rect x="6.45" y="0" width="0.8" height="48.9" fill="#000" opacity="0.42"/>
<rect x="9.87" y="0" width="0.8" height="48.9" fill="#000" opacity="0.42"/>
<rect x="13.30" y="0" width="0.8" height="48.9" fill="#000" opacity="0.42"/>
<rect x="16.73" y="0" width="0.8" height="48.9" fill="#000" opacity="0.42"/>
<rect x="20.15" y="0" width="0.8" height="48.9" fill="#000" opacity="0.42"/>
<rect x="23.57" y="0" width="0.8" height="48.9" fill="#000" opacity="0.42"/>
<rect x="0" y="3.09" width="27.4" height="0.8" fill="#000" opacity="0.38"/>
<rect x="0" y="6.59" width="27.4" height="0.8" fill="#000" opacity="0.38"/>
<rect x="0" y="10.08" width="27.4" height="0.8" fill="#000" opacity="0.38"/>
<rect x="0" y="13.57" width="27.4" height="0.8" fill="#000" opacity="0.38"/>
<rect x="0" y="17.06" width="27.4" height="0.8" fill="#000" opacity="0.38"/>
<rect x="0" y="20.56" width="27.4" height="0.8" fill="#000" opacity="0.38"/>
<rect x="0" y="24.05" width="27.4" height="0.8" fill="#000" opacity="0.38"/>
<rect x="0" y="27.54" width="27.4" height="0.8" fill="#000" opacity="0.38"/>
<rect x="0" y="31.04" width="27.4" height="0.8" fill="#000" opacity="0.38"/>
<rect x="0" y="34.53" width="27.4" height="0.8" fill="#000" opacity="0.38"/>
<rect x="0" y="38.02" width="27.4" height="0.8" fill="#000" opacity="0.38"/>
<rect x="0" y="41.51" width="27.4" height="0.8" fill="#000" opacity="0.38"/>
<rect x="0" y="45.01" width="27.4" height="0.8" fill="#000" opacity="0.38"/>
</g></g>
<g transform="matrix(1,-0.573,0,1,423.3,132.4)">
<clipPath id="rf2"><rect x="0" y="0" width="27.4" height="49.0"/></clipPath>
<rect x="0" y="0" width="27.4" height="49.0" fill="#0a0a0a"/>
<g clip-path="url(#rf2)">
<g filter="url(#b15)">
<rect x="2.5" y="6" width="9.5" height="14" rx="2" fill="#fff" opacity="0.66"/>
<rect x="14" y="3.5" width="10.5" height="17" rx="2" fill="#fff" opacity="0.90"/>
<rect x="16" y="6" width="6" height="10" rx="2" fill="#fff" opacity="0.90"/>
<rect x="2.5" y="27" width="9.5" height="17" rx="2" fill="#fff" opacity="0.78"/>
<rect x="4" y="32" width="5" height="8" rx="2" fill="#fff" opacity="0.60"/>
<rect x="14.5" y="23.5" width="10.5" height="19" rx="2" fill="#fff" opacity="0.90"/>
<rect x="17" y="27" width="5.5" height="10" rx="2" fill="#fff" opacity="0.78"/>
</g>
<rect x="3.02" y="0" width="0.8" height="49.0" fill="#000" opacity="0.42"/>
<rect x="6.45" y="0" width="0.8" height="49.0" fill="#000" opacity="0.42"/>
<rect x="9.87" y="0" width="0.8" height="49.0" fill="#000" opacity="0.42"/>
<rect x="13.30" y="0" width="0.8" height="49.0" fill="#000" opacity="0.42"/>
<rect x="16.73" y="0" width="0.8" height="49.0" fill="#000" opacity="0.42"/>
<rect x="20.15" y="0" width="0.8" height="49.0" fill="#000" opacity="0.42"/>
<rect x="23.57" y="0" width="0.8" height="49.0" fill="#000" opacity="0.42"/>
<rect x="0" y="3.10" width="27.4" height="0.8" fill="#000" opacity="0.38"/>
<rect x="0" y="6.60" width="27.4" height="0.8" fill="#000" opacity="0.38"/>
<rect x="0" y="10.10" width="27.4" height="0.8" fill="#000" opacity="0.38"/>
<rect x="0" y="13.60" width="27.4" height="0.8" fill="#000" opacity="0.38"/>
<rect x="0" y="17.10" width="27.4" height="0.8" fill="#000" opacity="0.38"/>
<rect x="0" y="20.60" width="27.4" height="0.8" fill="#000" opacity="0.38"/>
<rect x="0" y="24.10" width="27.4" height="0.8" fill="#000" opacity="0.38"/>
<rect x="0" y="27.60" width="27.4" height="0.8" fill="#000" opacity="0.38"/>
<rect x="0" y="31.10" width="27.4" height="0.8" fill="#000" opacity="0.38"/>
<rect x="0" y="34.60" width="27.4" height="0.8" fill="#000" opacity="0.38"/>
<rect x="0" y="38.10" width="27.4" height="0.8" fill="#000" opacity="0.38"/>
<rect x="0" y="41.60" width="27.4" height="0.8" fill="#000" opacity="0.38"/>
<rect x="0" y="45.10" width="27.4" height="0.8" fill="#000" opacity="0.38"/>
</g></g>
<g transform="matrix(1,-0.573,0,1,423.3,212.4)">
<clipPath id="rf3"><rect x="0" y="0" width="27.4" height="49.6"/></clipPath>
<rect x="0" y="0" width="27.4" height="49.6" fill="#0a0a0a"/>
<g clip-path="url(#rf3)">
<g filter="url(#b15)">
<rect x="2.5" y="7" width="9" height="12" rx="2" fill="#fff" opacity="0.60"/>
<rect x="13" y="3.5" width="11.5" height="15" rx="2" fill="#fff" opacity="0.84"/>
<rect x="17" y="7" width="5" height="8" rx="2" fill="#fff" opacity="0.48"/>
<rect x="2.5" y="26" width="9" height="19" rx="2" fill="#fff" opacity="0.54"/>
<rect x="13" y="23.5" width="11.5" height="20" rx="2" fill="#fff" opacity="0.84"/>
<rect x="17" y="30" width="6" height="10" rx="2" fill="#fff" opacity="1.00"/>
<rect x="8" y="19" width="7" height="7" rx="2" fill="#fff" opacity="0.36"/>
</g>
<rect x="3.02" y="0" width="0.8" height="49.6" fill="#000" opacity="0.42"/>
<rect x="6.45" y="0" width="0.8" height="49.6" fill="#000" opacity="0.42"/>
<rect x="9.87" y="0" width="0.8" height="49.6" fill="#000" opacity="0.42"/>
<rect x="13.30" y="0" width="0.8" height="49.6" fill="#000" opacity="0.42"/>
<rect x="16.73" y="0" width="0.8" height="49.6" fill="#000" opacity="0.42"/>
<rect x="20.15" y="0" width="0.8" height="49.6" fill="#000" opacity="0.42"/>
<rect x="23.57" y="0" width="0.8" height="49.6" fill="#000" opacity="0.42"/>
<rect x="0" y="3.14" width="27.4" height="0.8" fill="#000" opacity="0.38"/>
<rect x="0" y="6.69" width="27.4" height="0.8" fill="#000" opacity="0.38"/>
<rect x="0" y="10.23" width="27.4" height="0.8" fill="#000" opacity="0.38"/>
<rect x="0" y="13.77" width="27.4" height="0.8" fill="#000" opacity="0.38"/>
<rect x="0" y="17.31" width="27.4" height="0.8" fill="#000" opacity="0.38"/>
<rect x="0" y="20.86" width="27.4" height="0.8" fill="#000" opacity="0.38"/>
<rect x="0" y="24.40" width="27.4" height="0.8" fill="#000" opacity="0.38"/>
<rect x="0" y="27.94" width="27.4" height="0.8" fill="#000" opacity="0.38"/>
<rect x="0" y="31.49" width="27.4" height="0.8" fill="#000" opacity="0.38"/>
<rect x="0" y="35.03" width="27.4" height="0.8" fill="#000" opacity="0.38"/>
<rect x="0" y="38.57" width="27.4" height="0.8" fill="#000" opacity="0.38"/>
<rect x="0" y="42.11" width="27.4" height="0.8" fill="#000" opacity="0.38"/>
<rect x="0" y="45.66" width="27.4" height="0.8" fill="#000" opacity="0.38"/>
</g></g>
<circle cx="436.6" cy="185.9" r="1.3" fill="#141414"/>
<circle cx="436.6" cy="191.3" r="1.3" fill="#141414"/>
<circle cx="436.6" cy="197.0" r="1.3" fill="#141414"/>
<path d="M455.6,81.7 L469.9,81.7" stroke="#141414" stroke-width="1.9" fill="none"/>
<path d="M473.8,81.7 L466.8,78.1 L469.5,81.7 L466.8,85.3 Z" fill="#141414"/>
<path d="M455.6,149.2 L469.9,149.2" stroke="#141414" stroke-width="1.9" fill="none"/>
<path d="M473.8,149.2 L466.8,145.6 L469.5,149.2 L466.8,152.8 Z" fill="#141414"/>
<path d="M458.7,229.8 L472.5,229.8" stroke="#141414" stroke-width="1.9" fill="none"/>
<path d="M476.4,229.8 L469.4,226.2 L472.1,229.8 L469.4,233.4 Z" fill="#141414"/>
<rect x="481.8" y="50.1" width="108.9" height="64.1" fill="none" stroke="#141414" stroke-width="1.3" stroke-dasharray="4.2,2.3"/>
<rect x="484.4" y="50.0" width="13.3" height="63.4" rx="6.65" fill="#fdfdfd" stroke="#86a9a9" stroke-width="1.5"/>
<circle cx="491.0" cy="57.8" r="4.2" fill="#f1f1f1" stroke="#1a1a1a" stroke-width="0.9"/>
<circle cx="491.0" cy="67.2" r="4.2" fill="#f1f1f1" stroke="#1a1a1a" stroke-width="0.9"/>
<circle cx="491.0" cy="105.3" r="4.2" fill="#f1f1f1" stroke="#1a1a1a" stroke-width="0.9"/>
<rect x="490.3" y="82.9" width="1.4" height="1.2" fill="#222"/>
<rect x="490.3" y="85.6" width="1.4" height="1.2" fill="#222"/>
<rect x="490.3" y="88.4" width="1.4" height="1.2" fill="#222"/>
<rect x="514.9" y="53.6" width="13.6" height="56.2" rx="6.80" fill="#fdfdfd" stroke="#86a9a9" stroke-width="1.5"/>
<circle cx="521.7" cy="60.9" r="4.2" fill="#a2a2a2" stroke="#3a3a3a" stroke-width="0.9"/>
<circle cx="521.7" cy="70.5" r="4.2" fill="#a2a2a2" stroke="#3a3a3a" stroke-width="0.9"/>
<circle cx="521.7" cy="101.6" r="4.2" fill="#a2a2a2" stroke="#3a3a3a" stroke-width="0.9"/>
<rect x="521.0" y="83.8" width="1.4" height="1.2" fill="#222"/>
<rect x="521.0" y="86.8" width="1.4" height="1.2" fill="#222"/>
<rect x="521.0" y="89.8" width="1.4" height="1.2" fill="#222"/>
<rect x="545.7" y="56.9" width="13.1" height="49.3" rx="6.55" fill="#fdfdfd" stroke="#86a9a9" stroke-width="1.5"/>
<circle cx="552.2" cy="63.6" r="4.2" fill="#9c9c9c" stroke="#3a3a3a" stroke-width="0.9"/>
<circle cx="552.2" cy="73.2" r="4.2" fill="#9c9c9c" stroke="#3a3a3a" stroke-width="0.9"/>
<circle cx="552.2" cy="98.9" r="4.2" fill="#9c9c9c" stroke="#3a3a3a" stroke-width="0.9"/>
<rect x="551.5" y="83.4" width="1.4" height="1.2" fill="#222"/>
<rect x="551.5" y="86.4" width="1.4" height="1.2" fill="#222"/>
<rect x="551.5" y="89.4" width="1.4" height="1.2" fill="#222"/>
<rect x="573.5" y="59.0" width="12.5" height="44.5" rx="6.25" fill="#fdfdfd" stroke="#86a9a9" stroke-width="1.5"/>
<circle cx="579.8" cy="66.8" r="4.2" fill="#484848" stroke="#222" stroke-width="0.9"/>
<circle cx="579.8" cy="76.3" r="4.2" fill="#484848" stroke="#222" stroke-width="0.9"/>
<circle cx="579.8" cy="96.2" r="4.2" fill="#484848" stroke="#222" stroke-width="0.9"/>
<rect x="579.0" y="82.9" width="1.4" height="1.2" fill="#222"/>
<rect x="579.0" y="85.6" width="1.4" height="1.2" fill="#222"/>
<rect x="579.0" y="88.4" width="1.4" height="1.2" fill="#222"/>
<path d="M500.0,75.4 L509.6,75.4" stroke="#141414" stroke-width="2" fill="none"/>
<path d="M506.6,71.5 L511.6,75.4 L506.6,79.30000000000001" stroke="#141414" stroke-width="1.8" fill="none" stroke-linejoin="miter"/>
<path d="M512.1,87.5 L501.8,87.5" stroke="#3a3a3a" stroke-width="1.1" fill="none" stroke-dasharray="2.6,1.6"/>
<path d="M504.4,84.8 L501.0,87.5 L504.4,90.2" stroke="#3a3a3a" stroke-width="1.1" fill="none"/>
<path d="M530.8,75.4 L540.4,75.4" stroke="#141414" stroke-width="2" fill="none"/>
<path d="M537.4,71.5 L542.4,75.4 L537.4,79.30000000000001" stroke="#141414" stroke-width="1.8" fill="none" stroke-linejoin="miter"/>
<path d="M542.9,87.5 L532.5999999999999,87.5" stroke="#3a3a3a" stroke-width="1.1" fill="none" stroke-dasharray="2.6,1.6"/>
<path d="M535.1999999999999,84.8 L531.8,87.5 L535.1999999999999,90.2" stroke="#3a3a3a" stroke-width="1.1" fill="none"/>
<path d="M560.5,81.8 L572,81.8" stroke="#141414" stroke-width="1.6" fill="none"/>
<path d="M559.2,81.8 L563.8,79.2 L563.0,81.8 L563.8,84.39999999999999 Z M573.3,81.8 L568.7,79.2 L569.5,81.8 L568.7,84.39999999999999 Z" fill="#141414"/>
<path d="M594.3,81.8 L608.9,81.8" stroke="#141414" stroke-width="1.9" fill="none"/>
<path d="M612.8,81.8 L605.8,78.3 L608.5,81.8 L605.8,85.3 Z" fill="#141414"/>
<rect x="481.8" y="117.6" width="108.9" height="63.4" fill="none" stroke="#141414" stroke-width="1.3" stroke-dasharray="4.2,2.3"/>
<rect x="484.4" y="117.6" width="13.3" height="63.1" rx="6.65" fill="#fdfdfd" stroke="#86a9a9" stroke-width="1.5"/>
<circle cx="491.0" cy="124.9" r="4.2" fill="#f1f1f1" stroke="#1a1a1a" stroke-width="0.9"/>
<circle cx="491.0" cy="134.5" r="4.2" fill="#f1f1f1" stroke="#1a1a1a" stroke-width="0.9"/>
<circle cx="491.0" cy="173.1" r="4.2" fill="#f1f1f1" stroke="#1a1a1a" stroke-width="0.9"/>
<rect x="490.3" y="150.2" width="1.4" height="1.2" fill="#222"/>
<rect x="490.3" y="153.0" width="1.4" height="1.2" fill="#222"/>
<rect x="490.3" y="156.0" width="1.4" height="1.2" fill="#222"/>
<rect x="514.9" y="121.2" width="13.6" height="55.5" rx="6.80" fill="#fdfdfd" stroke="#86a9a9" stroke-width="1.5"/>
<circle cx="521.7" cy="128.1" r="4.2" fill="#a2a2a2" stroke="#3a3a3a" stroke-width="0.9"/>
<circle cx="521.7" cy="138.1" r="4.2" fill="#a2a2a2" stroke="#3a3a3a" stroke-width="0.9"/>
<circle cx="521.7" cy="169.5" r="4.2" fill="#a2a2a2" stroke="#3a3a3a" stroke-width="0.9"/>
<rect x="521.0" y="151.2" width="1.4" height="1.2" fill="#222"/>
<rect x="521.0" y="154.2" width="1.4" height="1.2" fill="#222"/>
<rect x="521.0" y="157.2" width="1.4" height="1.2" fill="#222"/>
<rect x="545.7" y="124.1" width="13.1" height="49.4" rx="6.55" fill="#fdfdfd" stroke="#86a9a9" stroke-width="1.5"/>
<circle cx="552.2" cy="131.4" r="4.2" fill="#9c9c9c" stroke="#3a3a3a" stroke-width="0.9"/>
<circle cx="552.2" cy="140.8" r="4.2" fill="#9c9c9c" stroke="#3a3a3a" stroke-width="0.9"/>
<circle cx="552.2" cy="166.6" r="4.2" fill="#9c9c9c" stroke="#3a3a3a" stroke-width="0.9"/>
<rect x="551.5" y="150.9" width="1.4" height="1.2" fill="#222"/>
<rect x="551.5" y="153.9" width="1.4" height="1.2" fill="#222"/>
<rect x="551.5" y="156.9" width="1.4" height="1.2" fill="#222"/>
<rect x="573.5" y="126.7" width="12.5" height="44.4" rx="6.25" fill="#fdfdfd" stroke="#86a9a9" stroke-width="1.5"/>
<circle cx="579.8" cy="133.9" r="4.2" fill="#484848" stroke="#222" stroke-width="0.9"/>
<circle cx="579.8" cy="143.5" r="4.2" fill="#484848" stroke="#222" stroke-width="0.9"/>
<circle cx="579.8" cy="163.9" r="4.2" fill="#484848" stroke="#222" stroke-width="0.9"/>
<rect x="579.0" y="149.9" width="1.4" height="1.2" fill="#222"/>
<rect x="579.0" y="152.7" width="1.4" height="1.2" fill="#222"/>
<rect x="579.0" y="155.4" width="1.4" height="1.2" fill="#222"/>
<path d="M500.0,151.3 L509.6,151.3" stroke="#141414" stroke-width="2" fill="none"/>
<path d="M506.6,147.4 L511.6,151.3 L506.6,155.20000000000002" stroke="#141414" stroke-width="1.8" fill="none" stroke-linejoin="miter"/>
<path d="M512.1,165.8 L501.8,165.8" stroke="#3a3a3a" stroke-width="1.1" fill="none" stroke-dasharray="2.6,1.6"/>
<path d="M504.4,163.10000000000002 L501.0,165.8 L504.4,168.5" stroke="#3a3a3a" stroke-width="1.1" fill="none"/>
<path d="M530.8,151.3 L540.4,151.3" stroke="#141414" stroke-width="2" fill="none"/>
<path d="M537.4,147.4 L542.4,151.3 L537.4,155.20000000000002" stroke="#141414" stroke-width="1.8" fill="none" stroke-linejoin="miter"/>
<path d="M542.9,165.8 L532.5999999999999,165.8" stroke="#3a3a3a" stroke-width="1.1" fill="none" stroke-dasharray="2.6,1.6"/>
<path d="M535.1999999999999,163.10000000000002 L531.8,165.8 L535.1999999999999,168.5" stroke="#3a3a3a" stroke-width="1.1" fill="none"/>
<path d="M560.5,149.1 L572,149.1" stroke="#141414" stroke-width="1.6" fill="none"/>
<path d="M559.2,149.1 L563.8,146.5 L563.0,149.1 L563.8,151.7 Z M573.3,149.1 L568.7,146.5 L569.5,149.1 L568.7,151.7 Z" fill="#141414"/>
<path d="M594.3,149.1 L608.9,149.1" stroke="#141414" stroke-width="1.9" fill="none"/>
<path d="M612.8,149.1 L605.8,145.6 L608.5,149.1 L605.8,152.6 Z" fill="#141414"/>
<rect x="481.8" y="197.8" width="108.9" height="64.7" fill="none" stroke="#141414" stroke-width="1.3" stroke-dasharray="4.2,2.3"/>
<rect x="484.4" y="198.1" width="13.3" height="63.1" rx="6.65" fill="#fdfdfd" stroke="#86a9a9" stroke-width="1.5"/>
<circle cx="491.0" cy="205.4" r="4.2" fill="#f1f1f1" stroke="#1a1a1a" stroke-width="0.9"/>
<circle cx="491.0" cy="215.0" r="4.2" fill="#f1f1f1" stroke="#1a1a1a" stroke-width="0.9"/>
<circle cx="491.0" cy="253.4" r="4.2" fill="#f1f1f1" stroke="#1a1a1a" stroke-width="0.9"/>
<rect x="490.3" y="230.4" width="1.4" height="1.2" fill="#222"/>
<rect x="490.3" y="233.2" width="1.4" height="1.2" fill="#222"/>
<rect x="490.3" y="236.2" width="1.4" height="1.2" fill="#222"/>
<rect x="514.9" y="201.4" width="13.6" height="56.6" rx="6.80" fill="#fdfdfd" stroke="#86a9a9" stroke-width="1.5"/>
<circle cx="521.7" cy="208.6" r="4.2" fill="#a2a2a2" stroke="#3a3a3a" stroke-width="0.9"/>
<circle cx="521.7" cy="218.4" r="4.2" fill="#a2a2a2" stroke="#3a3a3a" stroke-width="0.9"/>
<circle cx="521.7" cy="250.4" r="4.2" fill="#a2a2a2" stroke="#3a3a3a" stroke-width="0.9"/>
<rect x="521.0" y="231.4" width="1.4" height="1.2" fill="#222"/>
<rect x="521.0" y="234.4" width="1.4" height="1.2" fill="#222"/>
<rect x="521.0" y="237.4" width="1.4" height="1.2" fill="#222"/>
<rect x="545.7" y="204.1" width="13.1" height="50.6" rx="6.55" fill="#fdfdfd" stroke="#86a9a9" stroke-width="1.5"/>
<circle cx="552.2" cy="211.7" r="4.2" fill="#9c9c9c" stroke="#3a3a3a" stroke-width="0.9"/>
<circle cx="552.2" cy="221.3" r="4.2" fill="#9c9c9c" stroke="#3a3a3a" stroke-width="0.9"/>
<circle cx="552.2" cy="247.1" r="4.2" fill="#9c9c9c" stroke="#3a3a3a" stroke-width="0.9"/>
<rect x="551.5" y="231.2" width="1.4" height="1.2" fill="#222"/>
<rect x="551.5" y="234.2" width="1.4" height="1.2" fill="#222"/>
<rect x="551.5" y="237.2" width="1.4" height="1.2" fill="#222"/>
<rect x="573.5" y="207.2" width="12.5" height="45.0" rx="6.25" fill="#fdfdfd" stroke="#86a9a9" stroke-width="1.5"/>
<circle cx="579.8" cy="214.5" r="4.2" fill="#484848" stroke="#222" stroke-width="0.9"/>
<circle cx="579.8" cy="224.1" r="4.2" fill="#484848" stroke="#222" stroke-width="0.9"/>
<circle cx="579.8" cy="244.7" r="4.2" fill="#484848" stroke="#222" stroke-width="0.9"/>
<rect x="579.0" y="230.4" width="1.4" height="1.2" fill="#222"/>
<rect x="579.0" y="233.2" width="1.4" height="1.2" fill="#222"/>
<rect x="579.0" y="236.0" width="1.4" height="1.2" fill="#222"/>
<path d="M500.0,231.7 L509.6,231.7" stroke="#141414" stroke-width="2" fill="none"/>
<path d="M506.6,227.79999999999998 L511.6,231.7 L506.6,235.6" stroke="#141414" stroke-width="1.8" fill="none" stroke-linejoin="miter"/>
<path d="M512.1,246.7 L501.8,246.7" stroke="#3a3a3a" stroke-width="1.1" fill="none" stroke-dasharray="2.6,1.6"/>
<path d="M504.4,244.0 L501.0,246.7 L504.4,249.39999999999998" stroke="#3a3a3a" stroke-width="1.1" fill="none"/>
<path d="M530.8,231.7 L540.4,231.7" stroke="#141414" stroke-width="2" fill="none"/>
<path d="M537.4,227.79999999999998 L542.4,231.7 L537.4,235.6" stroke="#141414" stroke-width="1.8" fill="none" stroke-linejoin="miter"/>
<path d="M542.9,246.7 L532.5999999999999,246.7" stroke="#3a3a3a" stroke-width="1.1" fill="none" stroke-dasharray="2.6,1.6"/>
<path d="M535.1999999999999,244.0 L531.8,246.7 L535.1999999999999,249.39999999999998" stroke="#3a3a3a" stroke-width="1.1" fill="none"/>
<path d="M560.5,229.4 L572,229.4" stroke="#141414" stroke-width="1.6" fill="none"/>
<path d="M559.2,229.4 L563.8,226.8 L563.0,229.4 L563.8,232.0 Z M573.3,229.4 L568.7,226.8 L569.5,229.4 L568.7,232.0 Z" fill="#141414"/>
<path d="M594.3,229.4 L608.9,229.4" stroke="#141414" stroke-width="1.9" fill="none"/>
<path d="M612.8,229.4 L605.8,225.9 L608.5,229.4 L605.8,232.9 Z" fill="#141414"/>
<circle cx="536.2" cy="184.5" r="1.3" fill="#141414"/>
<circle cx="536.2" cy="190.0" r="1.3" fill="#141414"/>
<circle cx="536.2" cy="195.4" r="1.3" fill="#141414"/>
<circle cx="635.2" cy="185.4" r="1.3" fill="#141414"/>
<circle cx="635.2" cy="190.9" r="1.3" fill="#141414"/>
<circle cx="635.2" cy="196.5" r="1.3" fill="#141414"/>
<path d="M488.4,45.2 Q488.4,40.1 492.4,40.1 L501.1,40.1 Q505.1,40.1 505.1,35.1 Q505.1,40.1 509.1,40.1 L517.8,40.1 Q521.8,40.1 521.8,45.2" fill="none" stroke="#141414" stroke-width="1.0"/>
<path d="M521.8,45.2 Q521.8,40.1 525.8,40.1 L531.2,40.1 Q535.2,40.1 535.2,35.1 Q535.2,40.1 539.2,40.1 L544.6,40.1 Q548.6,40.1 548.6,45.2" fill="none" stroke="#141414" stroke-width="1.0"/>
<path d="M555.3,45.2 Q555.3,40.1 559.3,40.1 L564.7,40.1 Q568.7,40.1 568.7,35.1 Q568.7,40.1 572.7,40.1 L578.4,40.1 Q582.4,40.1 582.4,45.2" fill="none" stroke="#141414" stroke-width="1.0"/>
<path d="M39.4,301.7 Q39.4,308.3 43.4,308.3 L174.3,308.3 Q178.3,308.3 178.3,314.6 Q178.3,308.3 182.3,308.3 L315.3,308.3 Q319.3,308.3 319.3,301.7" fill="none" stroke="#141414" stroke-width="0.9"/>
<path d="M319.3,301.7 Q319.3,308.3 323.3,308.3 L402.4,308.3 Q406.4,308.3 406.4,314.6 Q406.4,308.3 410.4,308.3 L488.0,308.3 Q492.0,308.3 492.0,301.7" fill="none" stroke="#141414" stroke-width="0.9"/>
<path d="M495.4,301.9 Q495.4,308.0 499.4,308.0 L539.3,308.0 Q543.3,308.0 543.3,314.6 Q543.3,308.0 547.3,308.0 L585.1,308.0 Q589.1,308.0 589.1,301.9" fill="none" stroke="#141414" stroke-width="0.9"/>
</g>
<g filter="url(#bt)">
<text x="68.0" y="133.3" font-size="9.7" fill="#1a1a1a" stroke="#1a1a1a" stroke-width="0.22" text-anchor="start" textLength="48.8" lengthAdjust="spacingAndGlyphs">Convolution</text>
<text x="141.7" y="259.9" font-size="9.7" fill="#1a1a1a" stroke="#1a1a1a" stroke-width="0.22" text-anchor="start" textLength="52.5" lengthAdjust="spacingAndGlyphs">Feature Maps</text>
<text x="15.6" y="260.3" font-size="9.7" fill="#1a1a1a" stroke="#1a1a1a" stroke-width="0.22" text-anchor="start" textLength="44.8" lengthAdjust="spacingAndGlyphs">Face Image</text>
<text x="226.0" y="135.0" font-size="9.7" fill="#1a1a1a" stroke="#1a1a1a" stroke-width="0.22" text-anchor="start" textLength="29.7" lengthAdjust="spacingAndGlyphs">Pooling</text>
<text x="279.5" y="255.3" font-size="9.7" fill="#1a1a1a" stroke="#1a1a1a" stroke-width="0.22" text-anchor="start" textLength="59.5" lengthAdjust="spacingAndGlyphs">Over Complete</text>
<text x="279.8" y="267.1" font-size="9.7" fill="#1a1a1a" stroke="#1a1a1a" stroke-width="0.22" text-anchor="start" textLength="58.2" lengthAdjust="spacingAndGlyphs">Representation</text>
<text x="417.4" y="282.0" font-size="9.7" fill="#1a1a1a" stroke="#1a1a1a" stroke-width="0.22" text-anchor="start" textLength="38.5" lengthAdjust="spacingAndGlyphs">Receptive</text>
<text x="425.1" y="293.3" font-size="9.7" fill="#1a1a1a" stroke="#1a1a1a" stroke-width="0.22" text-anchor="start" textLength="23.4" lengthAdjust="spacingAndGlyphs">Fields</text>
<text x="623.6" y="74.2" font-size="9.6" fill="#1a1a1a" stroke="#1a1a1a" stroke-width="0.22" text-anchor="start" textLength="24.2" lengthAdjust="spacingAndGlyphs">Linear</text>
<text x="625.3" y="85.8" font-size="9.6" fill="#1a1a1a" stroke="#1a1a1a" stroke-width="0.22" text-anchor="start" textLength="21.4" lengthAdjust="spacingAndGlyphs">SVM</text>
<text x="617.3" y="97.3" font-size="9.6" fill="#1a1a1a" stroke="#1a1a1a" stroke-width="0.22" text-anchor="start" textLength="36.4" lengthAdjust="spacingAndGlyphs">Classifier</text>
<text x="623.6" y="141.9" font-size="9.6" fill="#1a1a1a" stroke="#1a1a1a" stroke-width="0.22" text-anchor="start" textLength="24.2" lengthAdjust="spacingAndGlyphs">Linear</text>
<text x="625.3" y="153.5" font-size="9.6" fill="#1a1a1a" stroke="#1a1a1a" stroke-width="0.22" text-anchor="start" textLength="21.4" lengthAdjust="spacingAndGlyphs">SVM</text>
<text x="617.3" y="164.6" font-size="9.6" fill="#1a1a1a" stroke="#1a1a1a" stroke-width="0.22" text-anchor="start" textLength="36.4" lengthAdjust="spacingAndGlyphs">Classifier</text>
<text x="623.6" y="222.4" font-size="9.6" fill="#1a1a1a" stroke="#1a1a1a" stroke-width="0.22" text-anchor="start" textLength="24.2" lengthAdjust="spacingAndGlyphs">Linear</text>
<text x="625.3" y="234.0" font-size="9.6" fill="#1a1a1a" stroke="#1a1a1a" stroke-width="0.22" text-anchor="start" textLength="21.4" lengthAdjust="spacingAndGlyphs">SVM</text>
<text x="617.3" y="246.2" font-size="9.6" fill="#1a1a1a" stroke="#1a1a1a" stroke-width="0.22" text-anchor="start" textLength="36.4" lengthAdjust="spacingAndGlyphs">Classifier</text>
<text x="495.6" y="30.9" font-size="8.3" fill="#1a1a1a" stroke="#1a1a1a" stroke-width="0.22" text-anchor="start" textLength="17.9" lengthAdjust="spacingAndGlyphs">RBM</text>
<text x="526.0" y="30.9" font-size="8.3" fill="#1a1a1a" stroke="#1a1a1a" stroke-width="0.22" text-anchor="start" textLength="18.4" lengthAdjust="spacingAndGlyphs">RBM</text>
<text x="554.5" y="17.6" font-size="8.3" fill="#1a1a1a" stroke="#1a1a1a" stroke-width="0.22" text-anchor="start" textLength="26.8" lengthAdjust="spacingAndGlyphs">Logistic</text>
<text x="551.1" y="27.6" font-size="8.3" fill="#1a1a1a" stroke="#1a1a1a" stroke-width="0.22" text-anchor="start" textLength="36.0" lengthAdjust="spacingAndGlyphs">Regression</text>
<text x="508.8" y="287.0" font-size="9.7" fill="#1a1a1a" stroke="#1a1a1a" stroke-width="0.22" text-anchor="start" textLength="78.6" lengthAdjust="spacingAndGlyphs">Hierarchical Feature</text>
<text x="119.4" y="331.7" font-size="9.7" fill="#1a1a1a" stroke="#1a1a1a" stroke-width="0.22" text-anchor="start" textLength="118.2" lengthAdjust="spacingAndGlyphs">Over-complete Representation</text>
<text x="352.1" y="331.6" font-size="9.7" fill="#1a1a1a" stroke="#1a1a1a" stroke-width="0.22" text-anchor="start" textLength="107.8" lengthAdjust="spacingAndGlyphs">AU-aware Receptive Fields</text>
<text x="484.4" y="332.0" font-size="9.7" fill="#1a1a1a" stroke="#1a1a1a" stroke-width="0.22" text-anchor="start" textLength="115.8" lengthAdjust="spacingAndGlyphs">Hierarchical Feature Learning</text>
</g>
</svg>
</div>
<div id="cap">
<div>Fig. 9. Representative cascaded network for FER. The proposed AU-</div>
<div>aware deep network (AUDN) [<span class="ref">137</span>] is composed of three sequential</div>
<div>modules: in the first module, a 2-layer CNN is trained to generate an</div>
<div>over-complete representation encoding all expression-specific appear-</div>
<div>ance variations over all possible locations; in the second module, an</div>
<div>AU-aware receptive field layer is designed to search subsets of the</div>
<div>over-complete representation; in the last module, a multilayer RBM is</div>
<div class="last">exploited to learn hierarchical features.</div>
</div>
</body></html>
